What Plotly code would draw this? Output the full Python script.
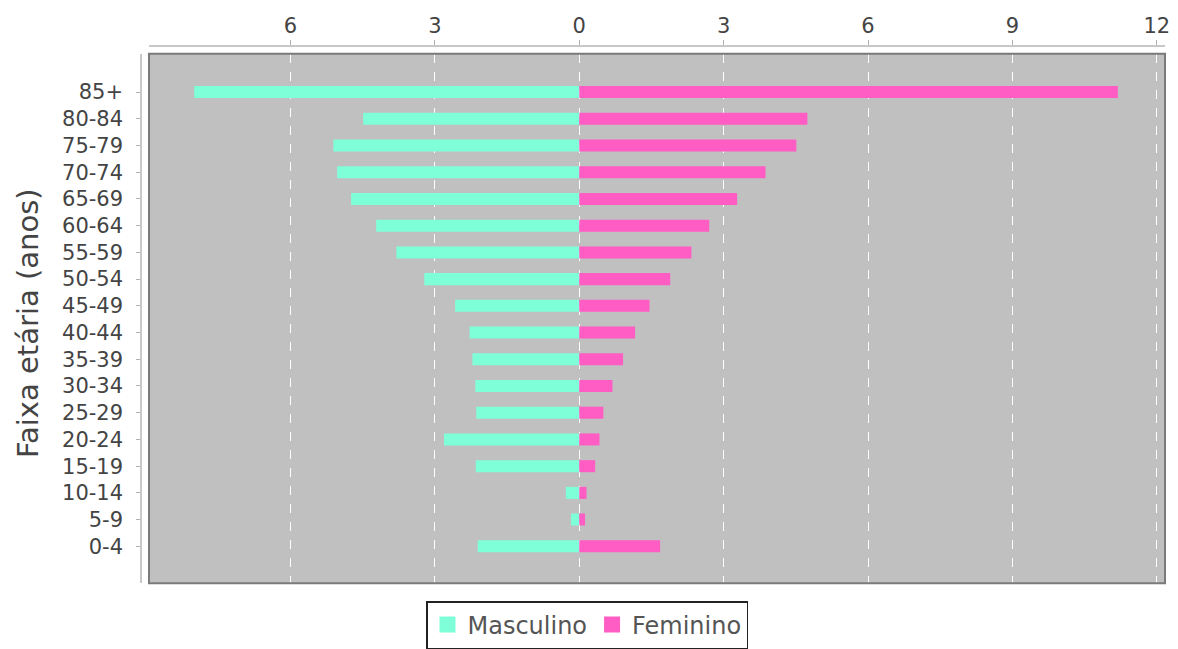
import plotly.graph_objects as go

age_groups = ["0-4", "5-9", "10-14", "15-19", "20-24", "25-29", "30-34", "35-39",
              "40-44", "45-49", "50-54", "55-59", "60-64", "65-69", "70-74",
              "75-79", "80-84", "85+"]
masculino = [2.11, 0.17, 0.28, 2.15, 2.81, 2.14, 2.16, 2.22, 2.28, 2.58, 3.22,
             3.80, 4.22, 4.74, 5.03, 5.11, 4.49, 8.00]
feminino = [1.68, 0.12, 0.15, 0.33, 0.42, 0.50, 0.69, 0.91, 1.16, 1.46, 1.89,
            2.33, 2.70, 3.28, 3.87, 4.51, 4.74, 11.19]
tick_vals = [-6, -3, 0, 3, 6, 9, 12]
tick_text = ["6", "3", "0", "3", "6", "9", "12"]

COL_M = "#7FFFD8"
COL_F = "#FF5CC4"

# page body has an 8px margin, so the figure is laid out 8px smaller
OFF = 8
W, H = 1178 - OFF, 649 - OFF
FONT = "DejaVu Sans"
TICK_COLOR = "#444444"


def px_x(p):
    return (p - OFF) / W


def px_y(p):
    return 1 - (p - OFF) / H


fig = go.Figure()
fig.add_trace(go.Bar(
    y=age_groups, x=[-v for v in masculino], orientation="h",
    name="Masculino", marker=dict(color=COL_M, line=dict(width=0)),
    width=0.45, showlegend=False,
))
fig.add_trace(go.Bar(
    y=age_groups, x=feminino, orientation="h",
    name="Feminino", marker=dict(color=COL_F, line=dict(width=0)),
    width=0.45, showlegend=False,
))
# legend swatches
for name, col in (("Masculino", COL_M), ("Feminino", COL_F)):
    fig.add_trace(go.Scatter(
        x=[None], y=[None], mode="markers", name=name,
        marker=dict(symbol="square", size=16, color=col, line=dict(width=0)),
    ))

x0, x1 = px_x(149), px_x(1165)
y0, y1 = px_y(585), px_y(54)

fig.update_layout(
    width=W, height=H,
    margin=dict(l=0, r=0, t=0, b=0, pad=0),
    barmode="relative",
    paper_bgcolor="white",
    plot_bgcolor="#c0c0c0",
    font=dict(family=FONT, size=21, color=TICK_COLOR),
    xaxis=dict(
        domain=[x0, x1], range=[-8.94, 12.17],
        side="top", anchor="free", position=px_y(46),
        tickvals=tick_vals, ticktext=tick_text,
        showline=True, linecolor="#c8c8c8", linewidth=1.5,
        ticks="outside", ticklen=5, tickcolor="#b0b0b0",
        showgrid=True, gridcolor="white", griddash="dash", gridwidth=1,
        zeroline=False, automargin=False, ticklabelstandoff=-1,
        tickfont=dict(family=FONT, size=21, color=TICK_COLOR),
        fixedrange=True,
    ),
    yaxis=dict(
        domain=[y0, y1], range=[-1.38, 18.43],
        type="category", categoryorder="array", categoryarray=age_groups,
        anchor="free", position=px_x(141),
        showline=True, linecolor="#c8c8c8", linewidth=1.5,
        ticks="outside", ticklen=4, tickcolor="#b0b0b0",
        showgrid=False, zeroline=False, automargin=False,
        ticklabelstandoff=9,
        tickfont=dict(family=FONT, size=21, color=TICK_COLOR),
        fixedrange=True,
    ),
    showlegend=True,
    legend=dict(
        orientation="h", x=px_x(587), xanchor="center",
        y=px_y(603), yanchor="top",
        bgcolor="white", bordercolor="#222222", borderwidth=1.5,
        font=dict(family=FONT, size=24, color="#555555"),
        traceorder="normal", itemwidth=30,
    ),
    shapes=[dict(
        type="rect", xref="paper", yref="paper",
        x0=x0, x1=x1, y0=y0, y1=y1,
        line=dict(color="#7a7a7a", width=2), layer="above",
    )],
    annotations=[dict(
        text="Faixa etária (anos)", xref="paper", yref="paper",
        x=px_x(28), y=px_y(324), xanchor="center", yanchor="middle",
        textangle=-90, showarrow=False,
        font=dict(family=FONT, size=29, color="#444444"),
    )],
)

fig.write_html("out.html")
